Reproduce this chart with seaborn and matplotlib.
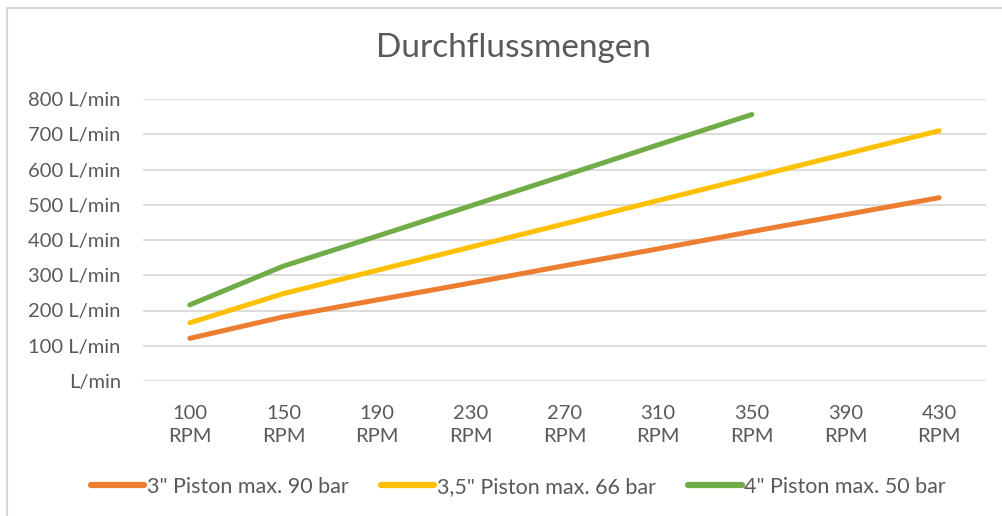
import matplotlib
matplotlib.use("Agg")
import matplotlib.pyplot as plt
import matplotlib.patches as patches
import numpy as np
import pandas as pd
import seaborn as sns

# data
RPM = ["100", "150", "190", "230", "270", "310", "350", "390", "430"]
PISTON_3 = [121, 182, 230, 278, 327, 375, 424, 472, 520]
PISTON_35 = [165, 248, 314, 380, 446, 512, 578, 644, 710]
PISTON_4 = [216, 326, 411, 497, 583, 670, 756, np.nan, np.nan]
SERIES = ['3" Piston max. 90 bar', '3,5" Piston max. 66 bar',
          '4" Piston max. 50 bar']
COLORS = ["#ED7D31", "#FFC000", "#70AD47"]
Y_TICKS = [0, 100, 200, 300, 400, 500, 600, 700, 800]

TEXT_COLOR = "#595959"
GRID_COLOR = "#D9D9D9"


def build_frame():
    ''' long-form table for seaborn '''
    rows = []
    for name, vals in zip(SERIES, [PISTON_3, PISTON_35, PISTON_4]):
        for i, v in enumerate(vals):
            rows.append({"pos": i, "flow": v, "series": name})
    return pd.DataFrame(rows)


def main():
    sns.set_style("white")
    plt.rcParams["font.family"] = ["Lato", "DejaVu Sans"]

    fig = plt.figure(figsize=(10.02, 5.16), dpi=100)
    W, H = 1002, 516
    ax = fig.add_axes([143 / W, 1 - 381 / H, (986 - 143) / W, (381 - 99) / H])

    # chart area border (only top and left visible in the reference)
    fig.patches.append(patches.Rectangle((7 / W, -0.1), 1.2, 1.1 - 8 / H,
                                         transform=fig.transFigure,
                                         fill=False, edgecolor="#D9D9D9",
                                         lw=1.5, zorder=0))

    df = build_frame()
    sns.lineplot(data=df, x="pos", y="flow", hue="series", palette=COLORS,
                 hue_order=SERIES, lw=3.6, ax=ax, legend=False,
                 solid_capstyle="round")

    ax.set_xlim(-0.5, len(RPM) - 0.5)
    ax.set_ylim(0, 800)
    ax.set_yticks(Y_TICKS)
    ax.set_yticklabels([f"{v} L/min" if v else "L/min" for v in Y_TICKS])
    ax.set_xticks(range(len(RPM)))
    ax.set_xticklabels([f"{r}\nRPM" for r in RPM], linespacing=1.45)
    ax.tick_params(axis="both", length=0, labelsize=14.5, colors=TEXT_COLOR)
    ax.tick_params(axis="y", pad=16)
    ax.tick_params(axis="x", pad=17)
    ax.set_xlabel("")
    ax.set_ylabel("")
    for y in Y_TICKS:
        ax.axhline(y, color=GRID_COLOR, lw=1.3, zorder=0)
    for s in ax.spines.values():
        s.set_visible(False)

    fig.text(0.512, 1 - 48 / H, "Durchflussmengen", ha="center", va="center",
             fontsize=24, color=TEXT_COLOR)

    handles = [plt.Line2D([], [], color=c, lw=4.5) for c in COLORS]
    fig.legend(handles, SERIES, loc="center", bbox_to_anchor=(0.517, 1 - 487 / H),
               ncol=3, frameon=False, fontsize=15.5, labelcolor=TEXT_COLOR,
               handlelength=2.5, handletextpad=0.1, columnspacing=1.5)

    fig.savefig("out.png", dpi=100)


if __name__ == "__main__":
    main()
